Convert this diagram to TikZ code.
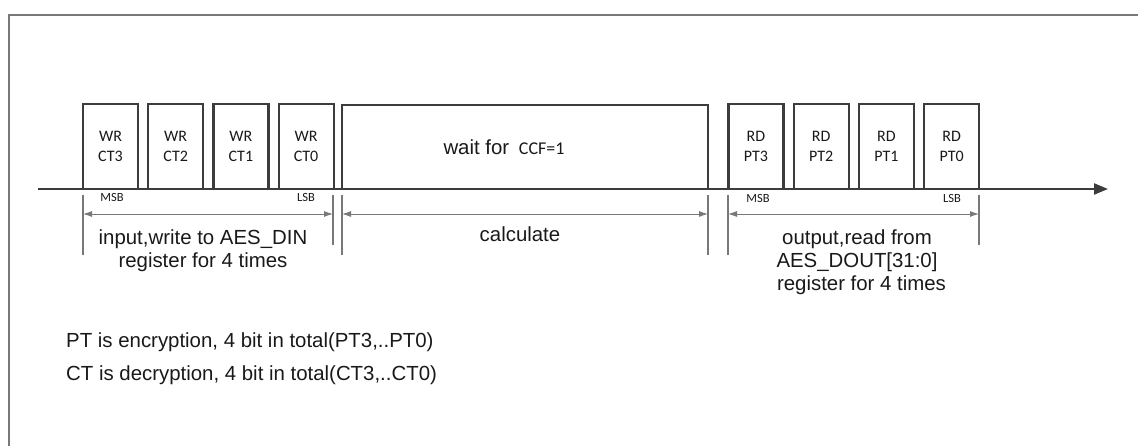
\documentclass[tikz,border=0pt]{standalone}
\usepackage{fontspec}
\setmainfont{Liberation Sans}
\newfontfamily\slotfont{Carlito}
\usetikzlibrary{arrows.meta,positioning}
\definecolor{boxcol}{RGB}{60,60,60}
\definecolor{tickcol}{RGB}{120,120,120}
\definecolor{textcol}{RGB}{25,25,25}
\tikzset{
  slotbox/.style={draw=boxcol,line width=2.2pt,minimum width=55pt,minimum height=85pt,inner sep=0pt,align=center,text=textcol,font=\slotfont\fontsize{16}{20}\selectfont},
  waitbox/.style={draw=boxcol,line width=2.2pt,minimum width=366pt,minimum height=84pt,inner sep=0pt},
  bitlabel/.style={font=\slotfont\fontsize{12.5}{13}\selectfont,text=textcol,inner sep=0pt},
  desc/.style={font=\fontsize{20.4}{23}\selectfont,align=center,text=textcol,inner sep=0pt},
  note/.style={font=\fontsize{20.4}{23}\selectfont,anchor=west,text=textcol,inner sep=0pt},
  timeaxis/.style={line width=2.2pt,boxcol,-{Triangle[length=14pt,width=11pt]}},
  tickmark/.style={line width=1.3pt,tickcol},
  spanarrow/.style={line width=0.9pt,tickcol,{Latex[length=9pt,width=6pt]}-{Latex[length=9pt,width=6pt]}},
}
\begin{document}
\begin{tikzpicture}[x=1pt,y=-1pt]
  \useasboundingbox (0,0) rectangle (1138,446);
  % outer frame (only top and left edges visible)
  \draw[line width=2pt,tickcol] (1138,15) -- (9,15) -- (9,446);
  % time axis
  \coordinate (axL) at (38,189);
  \coordinate (axR) at (1108,189);
  \draw[timeaxis] (axL) -- (axR);
  % write slots
  \node[slotbox] (wr3) at (110.5,146.5) {WR\\CT3};
  \node[slotbox,right=8pt of wr3] (wr2) {WR\\CT2};
  \node[slotbox,right=8pt of wr2] (wr1) {WR\\CT1};
  \node[slotbox,right=8pt of wr1] (wr0) {WR\\CT0};
  % calculation phase
  \node[waitbox] (wait) at (525,147) {};
  \node[desc] (waittxt) at (504,147) {wait for\hspace{4pt} {\slotfont\fontsize{18}{20}\selectfont CCF=1}};
  % read slots
  \node[slotbox] (rd3) at (756,146.5) {RD\\PT3};
  \node[slotbox,right=8pt of rd3] (rd2) {RD\\PT2};
  \node[slotbox,right=8pt of rd2] (rd1) {RD\\PT1};
  \node[slotbox,right=8pt of rd1] (rd0) {RD\\PT0};
  % bit order labels
  \node[bitlabel] (msbW) at (112,197) {MSB};
  \node[bitlabel] (lsbW) at (306,197) {LSB};
  \node[bitlabel] (msbR) at (758,198) {MSB};
  \node[bitlabel] (lsbR) at (952,198) {LSB};
  % span ticks
  \coordinate (tA) at (83,195);
  \coordinate (tB) at (333,195);
  \coordinate (tC) at (342,195);
  \coordinate (tD) at (708,195);
  \coordinate (tE) at (728,195);
  \coordinate (tF) at (979,195);
  \draw[tickmark] (tA) -- ++(0,60); \draw[tickmark] (tB) -- ++(0,50);
  \draw[tickmark] (tC) -- ++(0,60); \draw[tickmark] (tD) -- ++(0,60);
  \draw[tickmark] (tE) -- ++(0,60); \draw[tickmark] (tF) -- ++(0,50);
  \draw[spanarrow] ([yshift=-19pt]tA) -- ([yshift=-19pt]tB);
  \draw[spanarrow] ([yshift=-19pt]tC) -- ([yshift=-19pt]tD);
  \draw[spanarrow] ([yshift=-19pt]tE) -- ([yshift=-19pt]tF);
  % phase descriptions
  \node[desc] (intxt) at (203,250.5) {input,write to AES\_DIN\\register for 4 times};
  \node[desc] (calctxt) at (520,234) {calculate};
  \node[desc] (outtxt) at (857,262.5) {output,read from\\AES\_DOUT[31:0]\\\hspace{9pt}register for 4 times};
  % notes
  \node[note] (ptnote) at (66,342) {PT is encryption, 4 bit in total(PT3,..PT0)};
  \node[note] (ctnote) at (66,375) {CT is decryption, 4 bit in total(CT3,..CT0)};
\end{tikzpicture}
\end{document}
